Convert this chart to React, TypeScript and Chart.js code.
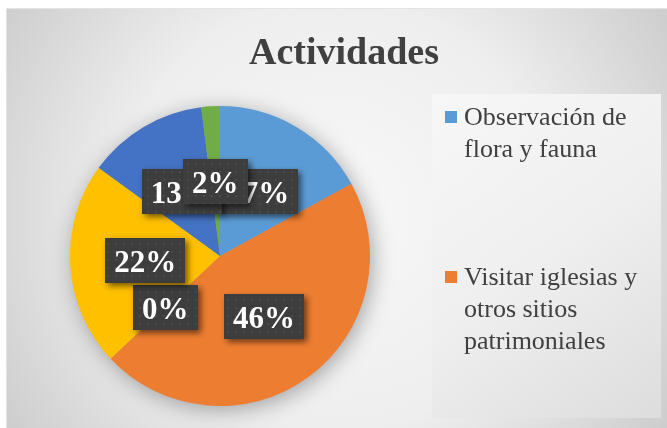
import React, { useEffect, useRef } from "react";
import { Chart, registerables } from "chart.js";

Chart.register(...registerables);

const chartTitle = "Actividades";
const categories = [
  "Observación de flora y fauna",
  "Visitar iglesias y otros sitios patrimoniales",
  "Gastronomía local",
  "Deportes de aventura",
  "Compras de artesanías",
  "Otras actividades",
];
const percentValues = [17, 46, 0, 22, 13, 2];
const sliceColors = ["#5B9BD5", "#ED7D31", "#A5A5A5", "#FFC000", "#4472C4", "#70AD47"];

const W = 667;
const H = 428;

function wrapText(ctx: CanvasRenderingContext2D, text: string, maxW: number): string[] {
  const words = text.split(" ");
  const lines: string[] = [];
  let cur = "";
  for (const w of words) {
    const test = cur ? cur + " " + w : w;
    if (ctx.measureText(test).width > maxW && cur) {
      lines.push(cur);
      cur = w;
    } else cur = test;
  }
  if (cur) lines.push(cur);
  return lines;
}

let patternCanvas: HTMLCanvasElement | null = null;
function getPattern(ctx: CanvasRenderingContext2D) {
  if (!patternCanvas) {
    patternCanvas = document.createElement("canvas");
    patternCanvas.width = 8;
    patternCanvas.height = 8;
    const p = patternCanvas.getContext("2d")!;
    p.fillStyle = "#3d3d3d";
    p.fillRect(0, 0, 8, 8);
    p.fillStyle = "#4a4a4a";
    p.fillRect(3, 3, 2, 2);
  }
  return ctx.createPattern(patternCanvas, "repeat");
}

const decorPlugin = {
  id: "decor",
  beforeDraw(chart: any) {
    const ctx: CanvasRenderingContext2D = chart.ctx;
    ctx.save();
    ctx.fillStyle = "#ffffff";
    ctx.fillRect(0, 0, W, H);
    // frame with radial gradient
    const g = ctx.createRadialGradient(335, 215, 0, 335, 215, 430);
    g.addColorStop(0, "#f8f8f8");
    g.addColorStop(0.5, "#eeeeee");
    g.addColorStop(1, "#c6c6c6");
    ctx.fillStyle = g;
    ctx.fillRect(7, 9, W - 7, H - 9);
    ctx.strokeStyle = "#e4e4e4";
    ctx.lineWidth = 1;
    ctx.beginPath();
    ctx.moveTo(6.5, H);
    ctx.lineTo(6.5, 8.5);
    ctx.lineTo(W, 8.5);
    ctx.stroke();
    // legend box
    const lg = ctx.createLinearGradient(432, 94, 661, 418);
    lg.addColorStop(0, "#f7f7f7");
    lg.addColorStop(0.5, "#efefef");
    lg.addColorStop(1, "#dddddd");
    ctx.fillStyle = lg;
    ctx.fillRect(432, 94, 229, 324);
    // title
    ctx.fillStyle = "#404040";
    ctx.font = "bold 38px 'Liberation Serif', 'Times New Roman', serif";
    ctx.textAlign = "center";
    ctx.textBaseline = "alphabetic";
    ctx.fillText(chartTitle, 344, 64);
    ctx.restore();
  },
  beforeDatasetsDraw(chart: any) {
    const ctx: CanvasRenderingContext2D = chart.ctx;
    const arc = chart.getDatasetMeta(0).data[0];
    if (!arc) return;
    const { x, y, outerRadius } = arc.getProps(["x", "y", "outerRadius"], true);
    ctx.save();
    ctx.shadowColor = "rgba(0,0,0,0.35)";
    ctx.shadowBlur = 22;
    ctx.shadowOffsetX = 3;
    ctx.shadowOffsetY = 4;
    ctx.fillStyle = "#999";
    ctx.beginPath();
    ctx.arc(x, y, outerRadius - 1, 0, Math.PI * 2);
    ctx.fill();
    ctx.restore();
  },
  afterDatasetsDraw(chart: any) {
    const ctx: CanvasRenderingContext2D = chart.ctx;
    const meta = chart.getDatasetMeta(0);
    const data = chart.data.datasets[0].data as number[];
    const total = data.reduce((a, b) => a + b, 0);
    ctx.save();
    ctx.font = "bold 31px 'Liberation Serif', 'Times New Roman', serif";
    ctx.textAlign = "center";
    ctx.textBaseline = "alphabetic";
    meta.data.forEach((el: any, i: number) => {
      const { x, y, startAngle, endAngle, outerRadius } = el.getProps(
        ["x", "y", "startAngle", "endAngle", "outerRadius"],
        true
      );
      const mid = (startAngle + endAngle) / 2;
      const cx = x + Math.cos(mid) * outerRadius * 0.5;
      const cy = y + Math.sin(mid) * outerRadius * 0.5;
      const txt = Math.round((data[i] / total) * 100) + "%";
      const tw = ctx.measureText(txt).width;
      const bw = tw + 18;
      const bh = 45;
      ctx.save();
      ctx.shadowColor = "rgba(0,0,0,0.55)";
      ctx.shadowBlur = 6;
      ctx.shadowOffsetX = 3;
      ctx.shadowOffsetY = 3;
      ctx.fillStyle = getPattern(ctx) || "#3d3d3d";
      ctx.fillRect(Math.round(cx - bw / 2), Math.round(cy - bh / 2), Math.round(bw), bh);
      ctx.restore();
      ctx.fillStyle = "#ffffff";
      ctx.fillText(txt, cx, cy + 11.5);
    });
    ctx.restore();
  },
  afterDraw(chart: any) {
    const ctx: CanvasRenderingContext2D = chart.ctx;
    const labels = chart.data.labels as string[];
    const colors = chart.data.datasets[0].backgroundColor as string[];
    ctx.save();
    ctx.font = "26px 'Liberation Serif', 'Times New Roman', serif";
    ctx.textAlign = "left";
    ctx.textBaseline = "alphabetic";
    const slot = 160;
    const lineH = 32;
    const legendBottom = 418;
    labels.forEach((lab, i) => {
      const base = 125 + i * slot;
      const lines = wrapText(ctx, lab, 192);
      const lastBase = base + (lines.length - 1) * lineH;
      if (lastBase + 8 > legendBottom) return;
      ctx.fillStyle = colors[i];
      ctx.fillRect(445, base - 14, 12, 12);
      ctx.fillStyle = "#404040";
      lines.forEach((ln, k) => ctx.fillText(ln, 464, base + k * lineH));
    });
    ctx.restore();
  },
};

export default function App() {
  const ref = useRef<HTMLCanvasElement>(null);
  useEffect(() => {
    if (!ref.current) return;
    const chart = new Chart(ref.current, {
      type: "pie",
      data: {
        labels: categories,
        datasets: [
          {
            data: percentValues,
            backgroundColor: sliceColors,
            borderWidth: 0,
            hoverOffset: 0,
            offset: 0,
          },
        ],
      },
      options: {
        animation: false,
        responsive: false,
        devicePixelRatio: 1,
        events: [],
        layout: { padding: { left: 70, right: 297, top: 106, bottom: 22 } },
        plugins: {
          legend: { display: false },
          tooltip: { enabled: false },
          title: { display: false },
        },
      },
      plugins: [decorPlugin],
    });
    return () => chart.destroy();
  }, []);
  return (
    <div style={{ position: "fixed", left: 0, top: 0, width: W, height: H }}>
      <canvas ref={ref} width={W} height={H} style={{ width: W, height: H, display: "block" }} />
    </div>
  );
}
